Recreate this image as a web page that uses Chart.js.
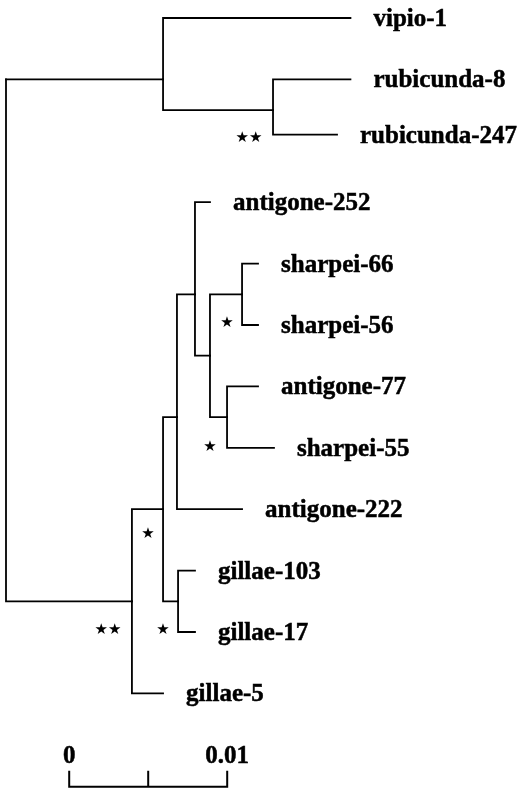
<!DOCTYPE html>
<html>
<head>
<meta charset="utf-8">
<script src="https://cdn.jsdelivr.net/npm/chart.js@4/dist/chart.umd.min.js"></script>
<style>
  html, body { margin: 0; padding: 0; background: #fff; }
  #wrap { width: 518px; height: 791px; }
</style>
</head>
<body>
<div id="wrap"><canvas id="tree" width="518" height="791"></canvas></div>
<script>
// tree nodes: name, parent index, distance from root, row (leaf order, top = 0)
const nodeNames = ['root', 'A', 'vipio-1', 'B', 'rubicunda-8', 'rubicunda-247',
    'C', 'D', 'F', 'G', 'antigone-252', 'H', 'I', 'sharpei-66', 'sharpei-56',
    'J', 'antigone-77', 'sharpei-55', 'antigone-222', 'E', 'gillae-103', 'gillae-17', 'gillae-5'];
const nodeParent = [-1, 0, 1, 1, 3, 3,
    0, 6, 7, 8, 9, 9, 11, 12, 12,
    11, 15, 15, 8, 7, 19, 19, 6];
const nodeDist = [0, 0.00994, 0.0218, 0.0169, 0.0218, 0.02095,
    0.00797, 0.00994, 0.01082, 0.01196, 0.01291, 0.01291, 0.01494, 0.01595, 0.01595,
    0.01399, 0.01595, 0.01696, 0.01494, 0.01089, 0.01196, 0.01196, 0.00994];
const nodeRow = [1.0, 1.0, 0, 1.5, 1, 1.9,
    9.5, 8, 6.5, 4.5, 3, 5.5, 4.5, 4, 5,
    6.5, 6, 7, 8, 9.5, 9, 10, 11];

// support marks (bootstrap stars)
const starText = ['**', '*', '*', '*', '*', '**'];
const starDist = [0.01538, 0.01399, 0.01291, 0.00899, 0.00994, 0.00646];
const starRow = [1.95, 4.97, 6.99, 8.41, 9.97, 9.97];

// scale bar
const scaleStart = 0.004;
const scaleTicks = [0, 0.005, 0.01];
const scaleTickLabels = ['0', '', '0.01'];
const scaleRow = 12.52;
const scaleTickRow = 12.26;
const scaleLabelRow = 12.03;

const datasets = [];
for (let i = 0; i < nodeNames.length; i++) {
    const p = nodeParent[i];
    if (p < 0) continue;
    datasets.push({
        data: [
            { x: nodeDist[p], y: nodeRow[p] },
            { x: nodeDist[p], y: nodeRow[i] },
            { x: nodeDist[i], y: nodeRow[i] }
        ],
        showLine: true,
        borderColor: '#000',
        borderWidth: 1.8,
        pointRadius: 0,
        borderCapStyle: 'square',
        borderJoinStyle: 'miter'
    });
}
// scale bar line and ticks
datasets.push({
    data: [
        { x: scaleStart + scaleTicks[0], y: scaleTickRow },
        { x: scaleStart + scaleTicks[0], y: scaleRow },
        { x: scaleStart + scaleTicks[2], y: scaleRow },
        { x: scaleStart + scaleTicks[2], y: scaleTickRow }
    ],
    showLine: true, borderColor: '#000', borderWidth: 2, pointRadius: 0
});
datasets.push({
    data: [
        { x: scaleStart + scaleTicks[1], y: scaleRow },
        { x: scaleStart + scaleTicks[1], y: scaleTickRow }
    ],
    showLine: true, borderColor: '#000', borderWidth: 2, pointRadius: 0
});

const labelPlugin = {
    id: 'treeLabels',
    afterDatasetsDraw(chart) {
        const ctx = chart.ctx;
        const xs = chart.scales.x, ys = chart.scales.y;
        ctx.save();
        ctx.fillStyle = '#000';
        ctx.strokeStyle = '#000';
        ctx.lineWidth = 0.5;
        // leaf labels
        ctx.font = 'bold 25px "Liberation Serif", "Times New Roman", serif';
        ctx.textAlign = 'left';
        ctx.textBaseline = 'alphabetic';
        const isParent = new Set(nodeParent);
        for (let i = 0; i < nodeNames.length; i++) {
            if (isParent.has(i)) continue;
            const px = xs.getPixelForValue(nodeDist[i]) + 23;
            const py = ys.getPixelForValue(nodeRow[i]) + 8;
            ctx.fillText(nodeNames[i], px, py);
            ctx.strokeText(nodeNames[i], px, py);
        }
        // stars
        ctx.font = '15px "DejaVu Sans", sans-serif';
        ctx.textAlign = 'center';
        ctx.textBaseline = 'middle';
        for (let i = 0; i < starText.length; i++) {
            const s = starText[i].replace(/\*/g, '★');
            ctx.fillText(s, xs.getPixelForValue(starDist[i]), ys.getPixelForValue(starRow[i]));
        }
        // scale labels
        ctx.font = 'bold 25px "Liberation Serif", "Times New Roman", serif';
        for (let i = 0; i < scaleTicks.length; i++) {
            if (!scaleTickLabels[i]) continue;
            const px = xs.getPixelForValue(scaleStart + scaleTicks[i]);
            const py = ys.getPixelForValue(scaleLabelRow);
            ctx.fillText(scaleTickLabels[i], px, py);
            ctx.strokeText(scaleTickLabels[i], px, py);
        }
        ctx.restore();
    }
};

new Chart(document.getElementById('tree'), {
    type: 'scatter',
    data: { datasets: datasets },
    options: {
        responsive: false,
        animation: false,
        layout: { padding: 0 },
        plugins: { legend: { display: false }, tooltip: { enabled: false } },
        scales: {
            x: { type: 'linear', display: false, min: -6 / 15800, max: 512 / 15800 },
            y: { type: 'linear', display: false, reverse: true, min: -18 / 61.4, max: 773 / 61.4 }
        }
    },
    plugins: [labelPlugin]
});
</script>
</body>
</html>
